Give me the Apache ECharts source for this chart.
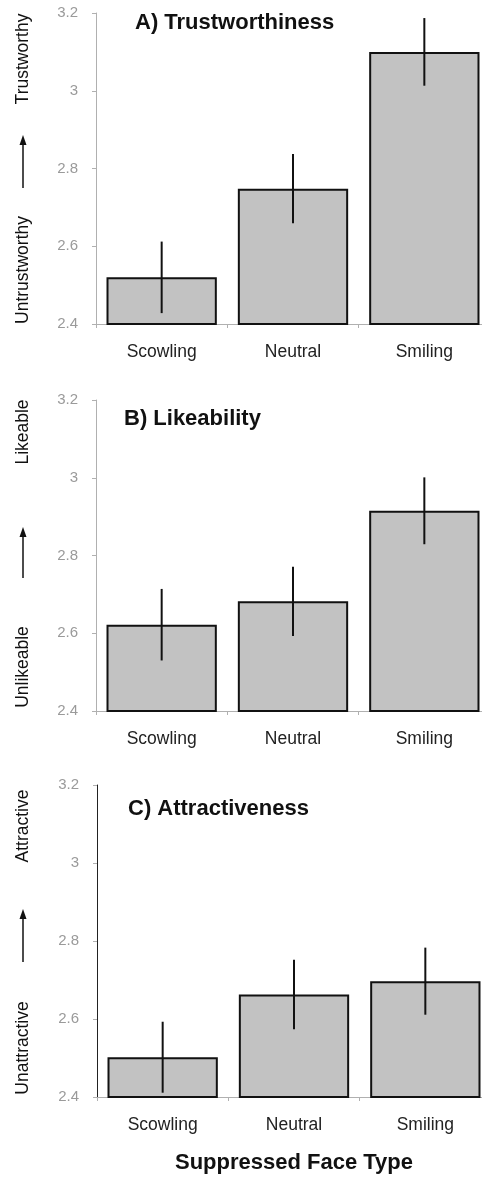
<!DOCTYPE html>
<html>
<head>
<meta charset="utf-8">
<script src="https://cdn.jsdelivr.net/npm/echarts@6/dist/echarts.min.js"></script>
<style>
html,body{margin:0;padding:0;background:#fff;overflow:hidden;width:482px;height:1179px;}
#chart{width:492px;height:1179px;}
</style>
</head>
<body>
<div id="chart"></div>
<script>
var categories = ['Scowling', 'Neutral', 'Smiling'];
var trustMean = [2.52, 2.748, 3.10];
var trustErr = [0.092, 0.089, 0.087];
var likeMean = [2.622, 2.682, 2.915];
var likeErr = [0.092, 0.089, 0.086];
var attrMean = [2.502, 2.663, 2.697];
var attrErr = [0.091, 0.089, 0.086];
var yTicks = [2.4, 2.6, 2.8, 3.0, 3.2];
var panelTitles = ['A) Trustworthiness', 'B) Likeability', 'C) Attractiveness'];
var highLabels = ['Trustworthy', 'Likeable', 'Attractive'];
var lowLabels = ['Untrustworthy', 'Unlikeable', 'Unattractive'];
var xAxisTitle = 'Suppressed Face Type';

var FONT = '"Liberation Sans", Arial, Helvetica, sans-serif';
var grids = [
  {left: 96, top: 13, width: 394, height: 311},
  {left: 96, top: 400, width: 394, height: 311},
  {left: 97, top: 785, width: 394, height: 312}
];
var means = [trustMean, likeMean, attrMean];
var errs = [trustErr, likeErr, attrErr];
var yAxisLineColors = ['#b0b0b0', '#b0b0b0', '#222'];

var xAxes = [], yAxes = [], series = [];
grids.forEach(function (g, i) {
  xAxes.push({
    type: 'category', gridIndex: i, data: categories,
    axisLine: {lineStyle: {color: '#b0b0b0', width: 1}},
    axisTick: {show: true, length: 4, lineStyle: {color: '#b0b0b0'}},
    axisLabel: {color: '#222', fontSize: 17.5, fontFamily: FONT, margin: 19}
  });
  yAxes.push({
    type: 'value', gridIndex: i, min: yTicks[0], max: yTicks[yTicks.length - 1], interval: 0.2,
    splitLine: {show: false},
    axisLine: {show: true, lineStyle: {color: yAxisLineColors[i], width: 1}},
    axisTick: {show: true, length: 4, lineStyle: {color: '#b0b0b0'}},
    axisLabel: {color: '#9a9a9a', fontSize: 15, fontFamily: FONT, margin: 18,
      formatter: function (v) { return String(Math.round(v * 10) / 10); }}
  });
  series.push({
    type: 'bar', xAxisIndex: i, yAxisIndex: i, data: means[i],
    barCategoryGap: '16%',
    itemStyle: {color: '#c2c2c2', borderColor: '#111', borderWidth: 2},
    silent: true, animation: false
  });
  var ed = means[i].map(function (m, k) { return [k, m - errs[i][k], m + errs[i][k]]; });
  series.push({
    type: 'custom', xAxisIndex: i, yAxisIndex: i, data: ed, z: 10, animation: false, silent: true,
    renderItem: function (params, api) {
      var lo = api.coord([api.value(0), api.value(1)]);
      var hi = api.coord([api.value(0), api.value(2)]);
      return {type: 'line', shape: {x1: lo[0], y1: lo[1], x2: hi[0], y2: hi[1]},
        style: {stroke: '#111', lineWidth: 2}};
    }
  });
});

var titlePos = [[135, 25], [124, 421], [128, 811]];
var highPos = [59, 432, 826];
var lowPos = [270, 667, 1048];
var arrowY = [[188, 135], [578, 527], [962, 909]];
var graphic = [];
for (var i = 0; i < 3; i++) {
  graphic.push({type: 'text', left: titlePos[i][0], top: titlePos[i][1] - 13,
    style: {text: panelTitles[i], font: 'bold 22px ' + FONT, fill: '#111'}});
  graphic.push({type: 'text', x: 23, y: highPos[i], rotation: Math.PI / 2,
    style: {text: highLabels[i], font: '17.5px ' + FONT, fill: '#111', textAlign: 'center', textVerticalAlign: 'middle'}});
  graphic.push({type: 'text', x: 23, y: lowPos[i], rotation: Math.PI / 2,
    style: {text: lowLabels[i], font: '17.5px ' + FONT, fill: '#111', textAlign: 'center', textVerticalAlign: 'middle'}});
  graphic.push({type: 'line', shape: {x1: 23, y1: arrowY[i][0], x2: 23, y2: arrowY[i][1] + 8},
    style: {stroke: '#111', lineWidth: 1.5}});
  graphic.push({type: 'polygon', shape: {points: [[23, arrowY[i][1]], [19.5, arrowY[i][1] + 10], [26.5, arrowY[i][1] + 10]]},
    style: {fill: '#111'}});
}
graphic.push({type: 'text', x: 294, y: 1163,
  style: {text: xAxisTitle, font: 'bold 22px ' + FONT, fill: '#111', textAlign: 'center', textVerticalAlign: 'middle'}});

var chart = echarts.init(document.getElementById('chart'), null, {renderer: 'canvas'});
chart.setOption({
  animation: false,
  backgroundColor: '#fff',
  grid: grids,
  xAxis: xAxes,
  yAxis: yAxes,
  series: series,
  graphic: graphic
});
</script>
</body>
</html>
